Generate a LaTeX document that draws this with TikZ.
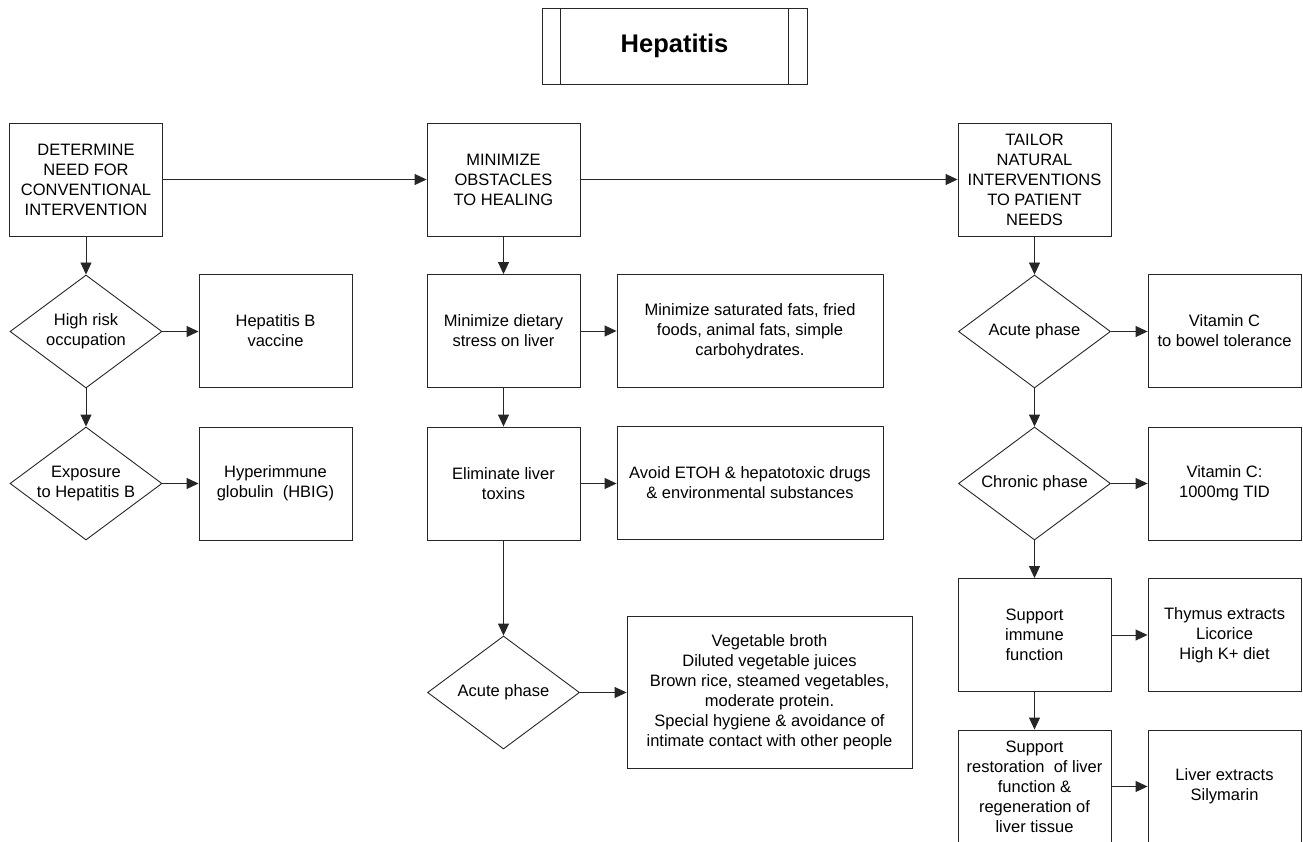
\documentclass[tikz,border=0pt]{standalone}
\usepackage{fontspec}
\setmainfont{Liberation Sans}
\usetikzlibrary{shapes.geometric,arrows.meta}
\begin{document}
\begin{tikzpicture}[x=1pt,y=-1pt,
  every node/.style={font=\fontsize{16.5}{20}\selectfont, align=center, inner sep=0pt},
  box/.style={draw=black!85, line width=0.9pt, rectangle, minimum width=#1, minimum height=113pt},
  box/.default=153pt,
  dia/.style={draw=black!85, line width=0.9pt, diamond, aspect=1.345, minimum width=152pt, minimum height=113pt},
  arr/.style={draw=black!85, line width=0.9pt, -{Triangle[length=12pt,width=11pt]}}
]
\useasboundingbox (0,0) rectangle (1303,842);
% title
\node[draw=black!85, line width=0.9pt, minimum width=265pt, minimum height=76pt, font=\fontsize{25.5}{28}\selectfont\bfseries] (title) at (674.5,46) {Hepatitis};
\draw[black!85, line width=0.9pt] ([xshift=19pt]title.north west) -- ([xshift=19pt]title.south west);
\draw[black!85, line width=0.9pt] ([xshift=-19pt]title.north east) -- ([xshift=-19pt]title.south east);

% left column
\node[box] (det) at (86,179.5) {DETERMINE\\NEED FOR\\CONVENTIONAL\\INTERVENTION};
\node[dia] (d1) at (86,331.5) {High risk\\occupation};
\node[box] (hbv) at (275.5,331) {Hepatitis B\\vaccine};
\node[dia] (d2) at (86,483.5) {Exposure\\to Hepatitis B};
\node[box] (hbig) at (275.5,483.5) {Hyperimmune\\globulin\ \ (HBIG)};

% middle column
\node[box] (mo) at (503.5,179.5) {MINIMIZE\\OBSTACLES\\TO HEALING};
\node[box] (mds) at (503.5,331) {Minimize dietary\\stress on liver};
\node[box=266pt] (msf) at (750,331) {Minimize saturated fats, fried\\foods, animal fats, simple\\carbohydrates.};
\node[box] (elt) at (503.5,483.5) {Eliminate liver\\toxins};
\node[box=266pt] (avoid) at (750,483) {Avoid ETOH \& hepatotoxic drugs\\\& environmental substances};
\node[dia] (dacm) at (503.5,692.5) {Acute phase};
\node[box=285pt, minimum height=152pt] (veg) at (769.5,692) {Vegetable broth\\Diluted vegetable juices\\Brown rice, steamed vegetables,\\moderate protein.\\Special hygiene \& avoidance of\\intimate contact with other people};

% right column
\node[box] (tail) at (1034.5,179.5) {TAILOR\\NATURAL\\INTERVENTIONS\\TO PATIENT\\NEEDS};
\node[dia] (dac) at (1034.5,331.5) {Acute phase};
\node[box] (vc1) at (1224.5,331) {Vitamin C\\to bowel tolerance};
\node[dia] (dch) at (1034.5,483.5) {Chronic phase};
\node[box] (vc2) at (1224.5,483.5) {Vitamin C:\\1000mg TID};
\node[box] (sif) at (1034.5,635) {Support\\immune\\function};
\node[box] (thy) at (1224.5,635) {Thymus extracts\\Licorice\\High K+ diet};
\node[box] (srl) at (1034.5,786.5) {Support\\restoration\ \ of liver\\function \&\\regeneration of\\liver tissue};
\node[box] (lex) at (1224.5,786.5) {Liver extracts\\Silymarin};

% connectors
\draw[arr] (det.east) -- (mo.west);
\draw[arr] (mo.east) -- (tail.west);
\draw[arr] (det.south) -- (d1.north);
\draw[arr] (d1.east) -- (hbv.west |- d1.east);
\draw[arr] (d1.south) -- (d2.north);
\draw[arr] (d2.east) -- (hbig.west |- d2.east);
\draw[arr] (mo.south) -- (mds.north);
\draw[arr] (mds.east) -- (msf.west |- mds.east);
\draw[arr] (mds.south) -- (elt.north);
\draw[arr] (elt.east) -- (avoid.west |- elt.east);
\draw[arr] (elt.south) -- (dacm.north);
\draw[arr] (dacm.east) -- (veg.west |- dacm.east);
\draw[arr] (tail.south) -- (dac.north);
\draw[arr] (dac.east) -- (vc1.west |- dac.east);
\draw[arr] (dac.south) -- (dch.north);
\draw[arr] (dch.east) -- (vc2.west |- dch.east);
\draw[arr] (dch.south) -- (sif.north);
\draw[arr] (sif.east) -- (thy.west |- sif.east);
\draw[arr] (sif.south) -- (srl.north);
\draw[arr] (srl.east) -- (lex.west |- srl.east);
\end{tikzpicture}
\end{document}
